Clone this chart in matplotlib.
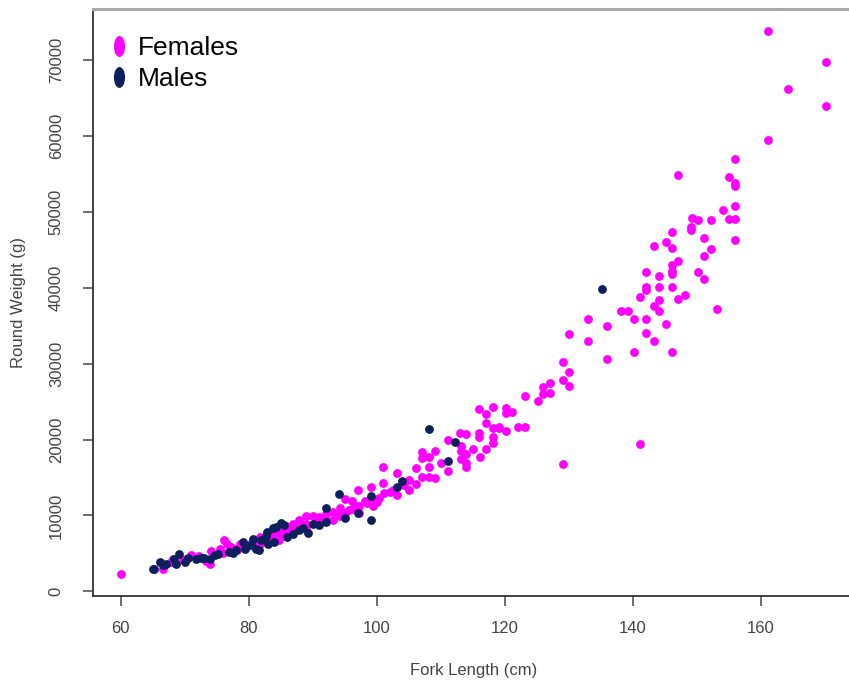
import matplotlib
matplotlib.use("Agg")
import matplotlib.pyplot as plt
import numpy as np
from matplotlib.lines import Line2D
from matplotlib.path import Path
from matplotlib.transforms import Affine2D

# fork length (cm) / round weight (g)
female_len = [
    60.1, 66.6, 67.9, 69.7, 71.0, 73.4, 73.9, 74.1, 76.0, 76.2, 76.6, 77.8,
    78.6, 79.6, 81.7, 82.5, 81.7, 82.7, 84.8, 83.8, 84.8, 85.9, 85.9, 86.9,
    86.9, 87.9, 87.9, 89.0, 89.0, 89.0, 90.0, 91.0, 91.0, 92.1, 92.1, 93.1,
    93.1, 94.2, 94.2, 95.1, 95.1, 96.2, 96.2, 97.3, 97.3, 97.1, 98.2, 99.1,
    99.4, 100.1, 100.4, 101.2, 101.0, 101.0, 102.1, 103.1, 103.1, 105.1, 105.1, 106.1,
    106.1, 107.1, 107.1, 107.1, 108.1, 108.1, 108.1, 109.1, 109.1, 110.0, 111.1, 111.1,
    113.0, 114.0, 113.2, 113.2, 113.2, 114.0, 114.0, 114.0, 115.1, 116.0, 116.0, 116.0,
    116.1, 117.1, 117.1, 117.1, 118.1, 118.1, 118.1, 118.1, 119.1, 119.1, 120.1, 120.1,
    120.2, 121.1, 122.0, 123.1, 123.1, 125.2, 126.0, 126.0, 127.1, 127.1, 129.1, 129.1,
    129.1, 130.0, 130.0, 130.0, 133.0, 133.0, 136.0, 136.0, 138.1, 139.2, 140.1, 140.1,
    141.1, 141.1, 142.0, 142.0, 142.1, 142.0, 142.0, 143.2, 143.2, 143.2, 144.1, 144.1,
    144.1, 144.1, 145.1, 145.1, 146.1, 146.1, 146.1, 146.1, 146.1, 146.1, 146.1, 147.1,
    147.1, 147.1, 148.1, 149.1, 149.1, 149.2, 150.1, 150.1, 151.1, 151.1, 151.1, 152.1,
    152.1, 153.1, 154.1, 155.0, 155.0, 156.0, 156.0, 156.0, 156.0, 156.0, 156.0, 161.1,
    161.1, 164.2, 170.1, 170.1,
    68.2, 70.2, 72.2, 75.5, 77.2, 78.2, 79.0, 80.2, 81.0, 83.2, 84.2, 85.4,
    86.3, 87.4, 88.4, 90.5, 91.5, 93.6, 95.6, 96.7, 98.5, 99.8, 102.6, 104.2,
]
female_wt = [
    2250, 3000, 3870, 4100, 4760, 4000, 3660, 5320, 5060, 6830, 6300, 5640,
    6300, 5850, 7170, 6740, 6300, 7170, 7830, 7530, 6830, 8590, 8060, 8940,
    7970, 9380, 8590, 9910, 8940, 8280, 9910, 9810, 9020, 10170, 9380, 10480,
    9380, 10920, 9910, 12110, 10260, 11930, 10790, 11230, 10260, 13340, 11930, 13700,
    11230, 11800, 12250, 12900, 16420, 14310, 13120, 15630, 12680, 14660, 13340, 16210,
    14130, 18320, 17530, 15100, 17660, 16340, 15020, 18490, 14890, 16950, 19950, 15890,
    20830, 20740, 19150, 18530, 17400, 18100, 16870, 16340, 18720, 24040, 20830, 20300,
    17660, 23340, 22150, 18800, 24270, 21490, 20380, 19510, 21490, 21620, 24130, 23470,
    21180, 23690, 21700, 21620, 25800, 25140, 26910, 26030, 27440, 26120, 30290, 27870,
    16780, 33950, 28970, 27120, 35890, 33030, 35010, 30610, 36900, 36990, 35890, 31530,
    38800, 19380, 42050, 39760, 40070, 35890, 34040, 45480, 37650, 33030, 41610, 40120,
    38350, 36900, 46060, 35230, 47330, 45270, 43060, 42180, 41880, 40120, 31610, 54860,
    43500, 38570, 39010, 48040, 47690, 49230, 49010, 42050, 46630, 44250, 41220, 49010,
    45140, 37210, 50200, 54650, 49100, 57030, 53860, 53410, 50770, 49140, 46370, 73890,
    59450, 66180, 69790, 63980,
    4200, 4300, 4700, 5600, 5900, 5500, 6000, 6300, 6600, 7000, 7300, 7700,
    8100, 8300, 8700, 9300, 9600, 10100, 10700, 11300, 11600, 12000, 13400, 14000,
]
male_len = [
    65.0, 65.3, 66.1, 66.6, 67.1, 68.7, 69.1, 68.4, 70.5, 71.8, 72.6, 74.7,
    75.2, 74.0, 76.9, 77.5, 79.1, 80.4, 80.6, 81.2, 81.6, 82.7, 82.9, 81.9,
    83.8, 84.3, 84.0, 85.1, 85.5, 86.9, 87.9, 89.2, 90.0, 92.1, 92.1, 94.1,
    95.1, 99.1, 99.1, 103.1, 104.0, 108.1, 111.1, 112.2, 135.1,
    78.0, 79.5, 83.0, 86.0, 88.5, 91.0, 97.0, 70.0, 73.0,
]
male_wt = [
    3000, 2900, 3870, 3500, 3660, 3660, 4890, 4300, 4450, 4320, 4450, 4760,
    4890, 4300, 5190, 5000, 6510, 6080, 6960, 5640, 5420, 7300, 7830, 6830,
    8410, 8490, 6510, 9020, 8700, 7620, 8060, 7700, 8850, 9160, 10920, 12810,
    9600, 9380, 12550, 13700, 14570, 21400, 17170, 19640, 39890,
    5400, 5600, 6200, 7200, 8300, 8700, 10300, 3900, 4400,
]

x_ticks = [60, 80, 100, 120, 140, 160]
y_ticks = [0, 10000, 20000, 30000, 40000, 50000, 60000, 70000]
group_names = ["Females", "Males"]
group_colors = ["#ff00ff", "#0d1f5c"]

plt.rcParams['font.family'] = ['Liberation Sans', 'DejaVu Sans']

fig = plt.figure(figsize=(8.49, 6.85), dpi=100)
W, H = 849, 685
# plot region in pixels; right edge runs past the crop like the reference
left, right, top, bottom = 93, 854, 9, 596
ax = fig.add_axes([left / W, 1 - bottom / H, (right - left) / W, (bottom - top) / H])

ax.scatter(female_len, female_wt, s=40, color=group_colors[0], linewidths=0, zorder=2)
ax.scatter(male_len, male_wt, s=40, color=group_colors[1], linewidths=0, zorder=3)

# R style 4% padding
all_x = np.array(female_len + male_len)
all_y = np.array(female_wt + male_wt)
px = (all_x.max() - all_x.min()) * 0.04
py = (all_y.max() - all_y.min()) * 0.04
ax.set_xlim(all_x.min() - px, all_x.max() + px)
ax.set_ylim(all_y.min() - py, all_y.max() + py)

ax.set_xticks(x_ticks)
ax.set_yticks(y_ticks)
ax.set_xticklabels([str(v) for v in x_ticks])
ax.set_yticklabels([str(v) for v in y_ticks], rotation=90, va='center')
ax.tick_params(axis='both', direction='out', length=7, width=1.2, color='#555555',
               labelsize=12, labelcolor='#444444')
ax.tick_params(axis='x', pad=11)
ax.tick_params(axis='y', pad=14)

for side in ['left', 'bottom']:
    ax.spines[side].set_color('#333333')
    ax.spines[side].set_linewidth(1.3)
ax.spines['top'].set_color('#a8a8a8')
ax.spines['top'].set_linewidth(2.2)
ax.spines['right'].set_visible(False)

fig.text(474 / W, 1 - 670 / H, "Fork Length (cm)", ha='center', va='center',
         fontsize=12, color='#444444')
fig.text(19 / W, 1 - 302 / H, "Round Weight (g)", ha='center', va='center',
         fontsize=12, color='#444444', rotation=90)

# tall ellipse legend markers
ellipse = Path.unit_circle().transformed(Affine2D().scale(0.5, 1.0))
handles = [Line2D([], [], linestyle='none', marker=ellipse, markersize=14,
                  markerfacecolor=c, markeredgecolor=c) for c in group_colors]
ax.legend(handles, group_names, loc='upper left', bbox_to_anchor=(-0.007, 0.985),
          frameon=False, fontsize=19, handlelength=1.0, handletextpad=0.2,
          labelspacing=0.25, borderaxespad=0.3)

fig.savefig("out.png", dpi=100)
